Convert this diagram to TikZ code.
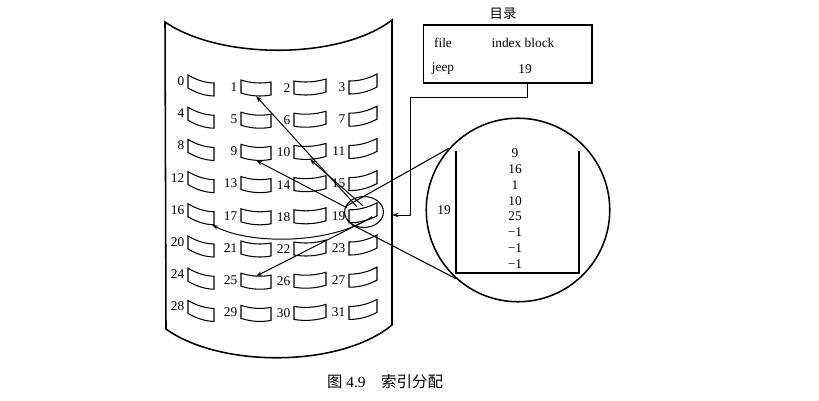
\documentclass[tikz,border=0pt]{standalone}
\usepackage{fontspec}
\setmainfont{Liberation Serif}
\newfontfamily\cjk{Noto Sans CJK SC}
\usetikzlibrary{calc,arrows.meta,shapes.geometric}

\begin{document}
\begin{tikzpicture}[x=0.025cm,y=-0.025cm,>={Stealth[length=4.5pt,width=3pt]},
    blk/.style={line width=0.75pt},
    edge/.style={line width=1.1pt},
    arr/.style={->,line width=0.7pt},
    num/.style={font=\fontsize{9.5}{10}\selectfont,inner sep=1pt}]
  \useasboundingbox (0,0) rectangle (819,400);
  % the disk sheet
  \draw[edge] (165,22) .. controls (220,60) and (340,60) .. (392,20)
    -- (392,325) .. controls (340,368) and (220,368) .. (166,329) -- cycle;
  % blocks 0..31, four to a row
  \foreach \c/\xa/\ya/\xb/\yb/\lx/\ly in {0/188/75/214/83/186/81,1/241/80/271/82/239/87,
      2/294/81/326/79/292/88,3/349/81/377/74/347/87}{
    \foreach \r in {0,...,7}{
      \pgfmathtruncatemacro\n{4*\r+\c}
      \pgfmathsetmacro\dy{32.2*\r}
      \pgfmathsetmacro\xp{\xa+(\xb-\xa)/3}
      \pgfmathsetmacro\xq{\xa+2*(\xb-\xa)/3}
      \pgfmathsetmacro\yp{\ya+(\yb-\ya)/3+\dy+2.5}
      \pgfmathsetmacro\yq{\ya+2*(\yb-\ya)/3+\dy+2.5}
      \draw[blk] (\xa,\ya+\dy) .. controls (\xp,\yp) and (\xq,\yq) .. (\xb,\yb+\dy)
        -- (\xb,\yb+\dy+13) .. controls (\xq,\yq+13) and (\xp,\yp+13) .. (\xa,\ya+\dy+13) -- cycle;
      \coordinate (b\n) at ({(\xa+\xb)/2},{(\ya+\yb)/2+\dy+6.5});
      \coordinate (bt\n) at ({(\xa+\xb)/2},{(\ya+\yb)/2+\dy+2});
      \coordinate (bb\n) at ({(\xa+\xb)/2},{(\ya+\yb)/2+\dy+15});
      \coordinate (br\n) at (\xb-2,\yb+\dy+13);
      \node[num,anchor=east] (l\n) at (\lx,\ly+\dy) {\n};
    }
  }
  % index block 19 and its pointers
  \node[draw,ellipse,blk,minimum width=27.6pt,minimum height=22pt,inner sep=0pt] (sel) at (364,212) {};
  \coordinate (s1) at ($(b19)+(-6,-6)$);
  \coordinate (s10) at ($(b19)+(0,-7)$);
  \coordinate (s9) at ($(b19)+(-16,-5)$);
  \coordinate (s16) at ($(b19)+(9,4)$);
  \coordinate (s25) at ($(b19)+(2,8)$);
  \draw[arr] (s1) -- (bb1);
  \draw[arr] (s10) -- (bb10);
  \draw[arr] (s9) -- (bb9);
  \draw[arr] (s25) -- (bt25);
  \draw[arr] (s16) .. controls ($(s16)+(-42,28)$) and ($(br16)+(38,20)$) .. (br16);
  % magnified view of block 19
  \node[draw,circle,edge,minimum size=130.5pt,inner sep=0pt] (mag) at (518,210) {};
  \draw[blk] (sel.165) -- (mag.138);
  \draw[blk] (sel.225) -- (mag.228);
  \draw[edge] (456,151) -- (456,273) -- (579,273) -- (579,151);
  \foreach \v [count=\i from 0] in {9,16,1,10,25,−1,−1,−1}
    \node[num] (e\i) at (515,153+15.9*\i) {\v};
  \node[num] (x19) at (444,210) {19};
  % directory
  \node[draw,edge,minimum width=119.8pt,minimum height=41.1pt,inner sep=0pt] (dir) at (507.5,54) {};
  \node[font=\cjk\fontsize{9.5}{10}\selectfont] (ttl) at (503,14) {目录};
  \node[num] (hf) at (443,43) {file};
  \node[num] (hi) at (523,43) {index block};
  \node[num] (jf) at (443,69) {jeep};
  \node[num] (ji) at (525,69) {19};
  \coordinate (turn) at (410,97);
  \coordinate (ent) at (392,215);
  \draw[arr] ($(dir.south)+(19.5,0)$) |- (turn) |- (ent);
  % caption
  \node[font=\fontsize{11}{12}\selectfont] (cap) at (385,382) {{\cjk 图} 4.9\quad{\cjk 索引分配}};
\end{tikzpicture}
\end{document}
